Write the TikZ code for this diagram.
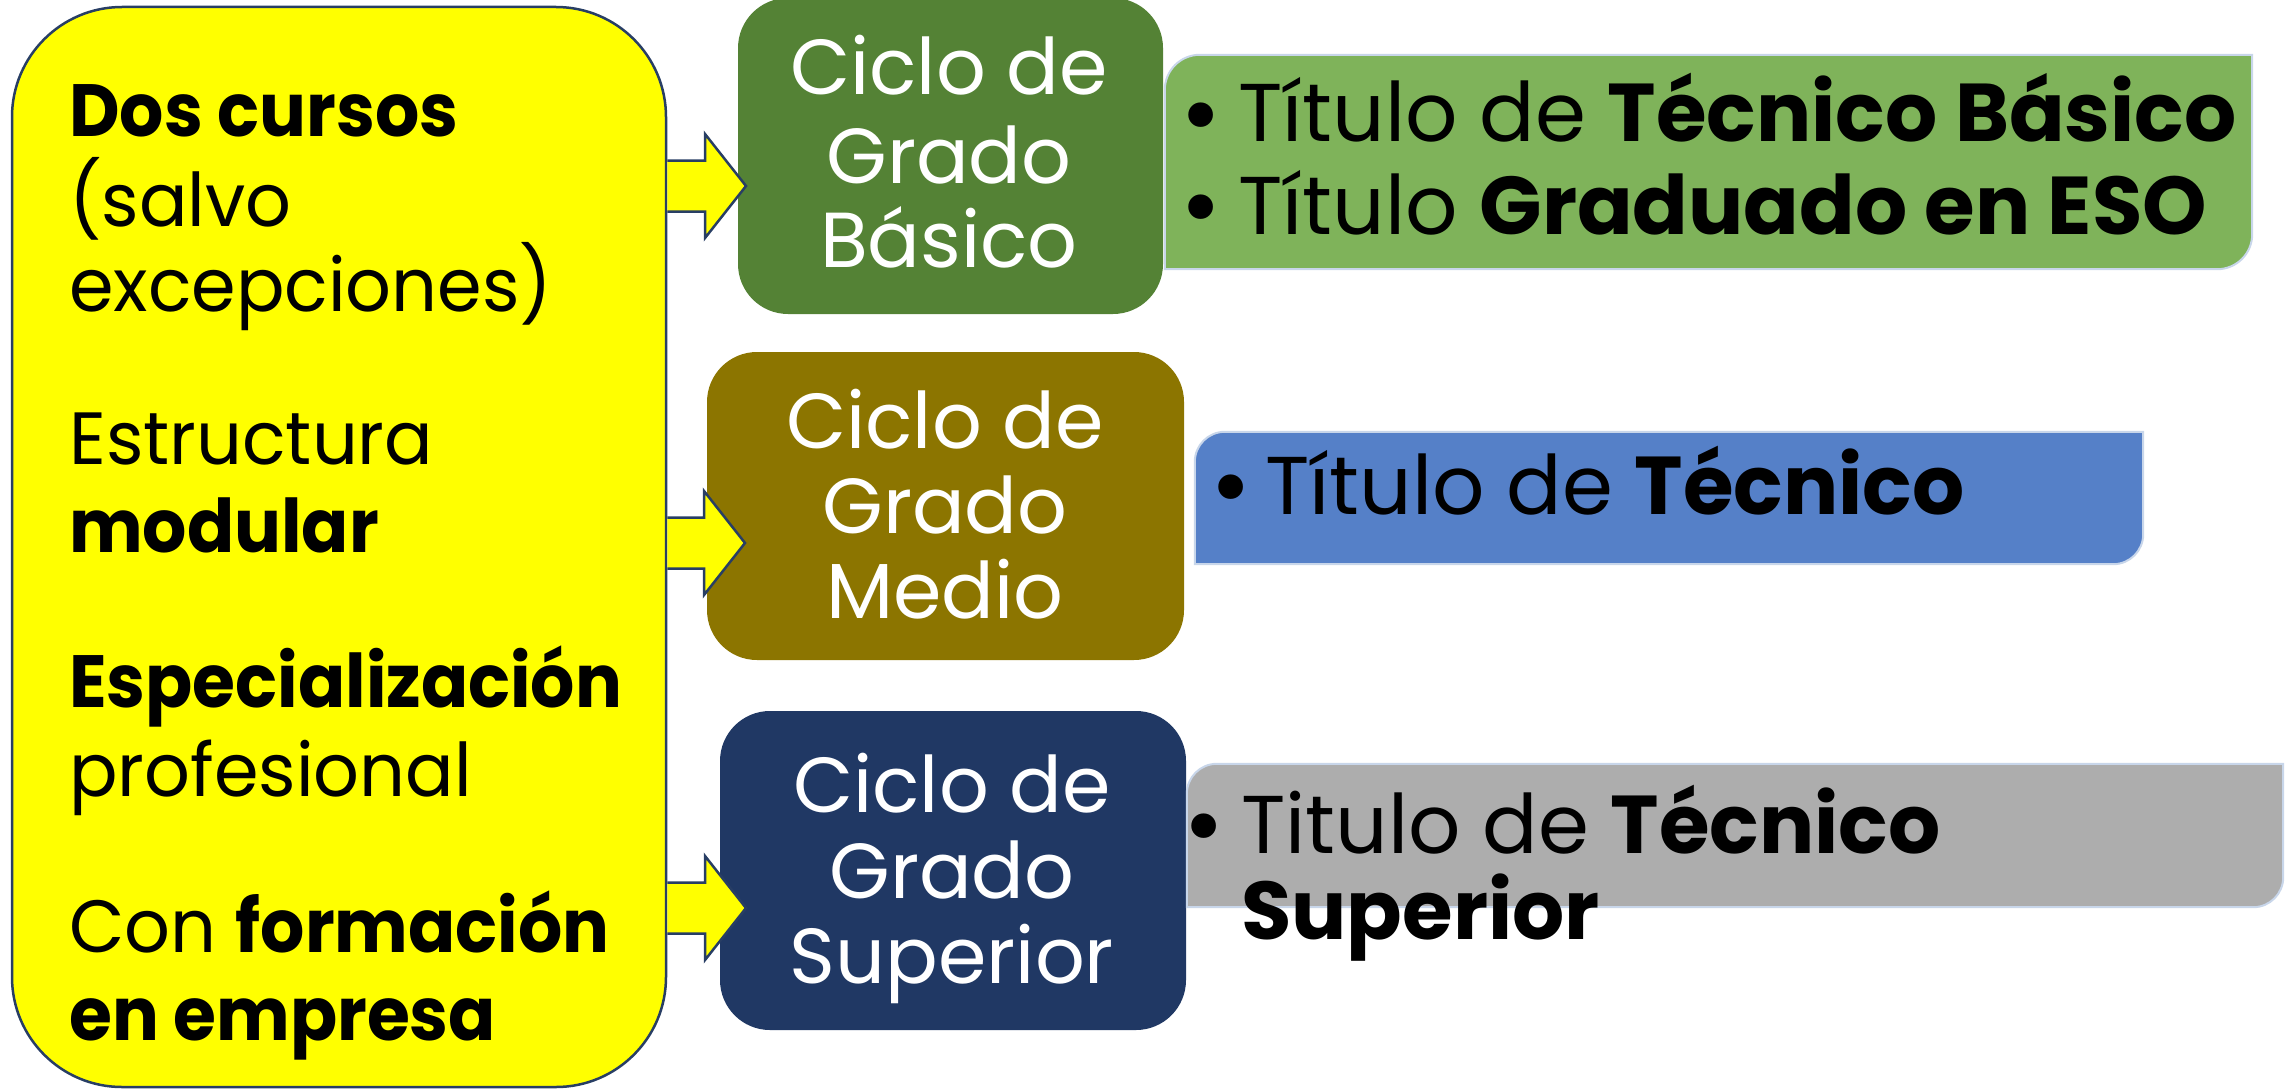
\documentclass[tikz,border=0pt]{standalone}
\usepackage{fontspec}
\setmainfont{Poppins}
\newfontfamily\featfont[FakeStretch=0.97, BoldFeatures={FakeStretch=0.94}]{Poppins}
\usetikzlibrary{calc}
\definecolor{featyellow}{RGB}{255,255,0}
\definecolor{edgenavy}{RGB}{40,62,100}
\definecolor{basicgreen}{RGB}{84,130,53}
\definecolor{medioolive}{RGB}{140,117,0}
\definecolor{supnavy}{RGB}{32,56,100}
\definecolor{lightgreen}{RGB}{127,179,90}
\definecolor{midblue}{RGB}{85,128,200}
\definecolor{midgrey}{RGB}{173,173,173}
\definecolor{paleedge}{RGB}{200,214,234}
\tikzset{
 featbox/.style={draw=edgenavy, line width=2.5pt, fill=featyellow, rounded corners=110pt, inner sep=0pt},
 cyclebox/.style={rounded corners=50pt, inner sep=0pt},
 titlebox/.style={inner sep=0pt},
 ftext/.style={anchor=base west, font=\featfont\fontsize{74}{88}\selectfont, inner sep=0pt},
 ctext/.style={anchor=base, font=\fontsize{78}{86}\selectfont, text=white, inner sep=0pt},
 ttext/.style={anchor=base west, font=\fontsize{82}{92}\selectfont, inner sep=0pt},
 bullettext/.style={anchor=base west, font=\fontsize{100}{100}\selectfont, inner sep=0pt, yshift=-6pt},
 arrowedge/.style={draw=edgenavy, line width=2.5pt, line join=miter},
 titlefill/.style={draw=paleedge, line width=2pt},
}
\newcommand\blockarrow[2]{%
 \fill[featyellow] let \p1=(#1), \p2=(#2) in (\x1,\y2+25.5pt) -- (\x2-41pt,\y2+25.5pt) -- (\x2-41pt,\y2+52pt) -- (\x2,\y2) -- (\x2-41pt,\y2-52pt) -- (\x2-41pt,\y2-25.5pt) -- (\x1,\y2-25.5pt) -- cycle;
 \draw[arrowedge] let \p1=(#1), \p2=(#2) in (\x1,\y2+25.5pt) -- (\x2-41pt,\y2+25.5pt) -- (\x2-41pt,\y2+52pt) -- (\x2,\y2) -- (\x2-41pt,\y2-52pt) -- (\x2-41pt,\y2-25.5pt) -- (\x1,\y2-25.5pt);
}
\newcommand\tlbrbox[3]{% node, radius, style
 \path[#3] let \p1=(#1.north west), \p2=(#1.south east) in (\x1,\y2) -- (\x1,\y1-#2) .. controls (\x1,\y1-0.448*#2) and (\x1+0.448*#2,\y1) .. (\x1+#2,\y1) -- (\x2,\y1) -- (\x2,\y2+#2) .. controls (\x2,\y2+0.448*#2) and (\x2-0.448*#2,\y2) .. (\x2-#2,\y2) -- cycle;
}
\begin{document}
\begin{tikzpicture}[x=1pt,y=-1pt]
\useasboundingbox (0,0) rectangle (2290,1089);
% cycle boxes
\node[cyclebox, fill=basicgreen, minimum width=425pt, minimum height=316pt] (basic) at (950.5,156) {};
\node[cyclebox, fill=medioolive, minimum width=477pt, minimum height=308pt] (medio) at (945.5,506) {};
\node[cyclebox, fill=supnavy, minimum width=466pt, minimum height=319pt] (sup) at (953,870.5) {};
% title boxes
\node[titlebox, minimum width=1087pt, minimum height=214pt] (tbasic) at (1708.5,162) {};
\node[titlebox, minimum width=948pt, minimum height=132pt] (tmedio) at (1669,498) {};
\node[titlebox, minimum width=1096pt, minimum height=143pt] (tsup) at (1735,835.5) {};
\tlbrbox{tbasic}{35pt}{titlefill, fill=lightgreen}
\tlbrbox{tmedio}{30pt}{titlefill, fill=midblue}
\tlbrbox{tsup}{30pt}{titlefill, fill=midgrey}
% feature box
\node[featbox, minimum width=654pt, minimum height=1080pt] (feat) at (339,547) {};
% arrows
\coordinate (tip1) at (746,186);
\coordinate (tip2) at (745,543);
\coordinate (tip3) at (746,908);
\blockarrow{feat.east |- tip1}{tip1}
\blockarrow{feat.east |- tip2}{tip2}
\blockarrow{feat.east |- tip3}{tip3}
% feature text
\node[ftext] (f1) at (69,136) {\textbf{Dos cursos}};
\node[ftext] (f2) at (69,226) {(salvo};
\node[ftext] (f3) at (69,311) {excepciones)};
\node[ftext] (f4) at (69,464) {Estructura};
\node[ftext] (f5) at (69,552) {\textbf{modular}};
\node[ftext] (f6) at (69,707) {\textbf{Especialización}};
\node[ftext] (f7) at (69,796) {profesional};
\node[ftext] (f8) at (69,952) {Con \textbf{formación}};
\node[ftext] (f9) at (69,1040) {\textbf{en empresa}};
% cycle text
\node[ctext] (c1a) at (949,95) {Ciclo de};
\node[ctext] (c1b) at (949,183) {Grado};
\node[ctext] (c1c) at (949,267) {Básico};
\node[ctext] (c2a) at (945,448) {Ciclo de};
\node[ctext] (c2b) at (945,533) {Grado};
\node[ctext] (c2c) at (945,618) {Medio};
\node[ctext] (c3a) at (952,812) {Ciclo de};
\node[ctext] (c3b) at (952,898) {Grado};
\node[ctext] (c3c) at (952,983) {Superior};
% title text
\node[bullettext] (b1) at (1180,142) {•};
\node[ttext] (t1) at (1238,142) {Título de \textbf{Técnico Básico}};
\node[bullettext] (b2) at (1180,234) {•};
\node[ttext] (t2) at (1238,234) {Título \textbf{Graduado en ESO}};
\node[bullettext] (b3) at (1210,514) {•};
\node[ttext] (t3) at (1265,514) {Título de \textbf{Técnico}};
\node[bullettext] (b4) at (1183,853) {•};
\node[ttext] (t4) at (1241,853) {Titulo de \textbf{Técnico}};
\node[ttext] (t5) at (1241,939) {\textbf{Superior}};
\end{tikzpicture}
\end{document}
